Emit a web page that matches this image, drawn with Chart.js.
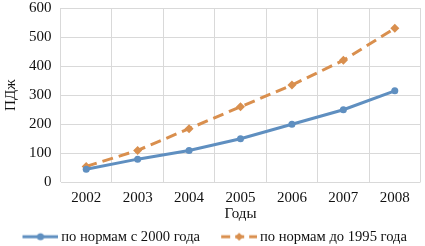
<!DOCTYPE html>
<html>
<head>
<meta charset="utf-8">
<script src="https://cdn.jsdelivr.net/npm/chart.js@4.4.1/dist/chart.umd.min.js"></script>
<style>
  html, body { margin: 0; padding: 0; background: #fff; overflow: hidden; }
  #wrap { width: 425px; height: 264px; margin-top: -10px; }
</style>
</head>
<body>
<div id="wrap"><canvas id="myChart"></canvas></div>
<script>
const years = ['2002', '2003', '2004', '2005', '2006', '2007', '2008'];
const norms2000 = [45, 80, 110, 150, 200, 250, 315];
const norms1995 = [55, 110, 185, 260, 335, 420, 530];
const yTicks = [0, 100, 200, 300, 400, 500, 600];

const blue = '#5f8fc0';
const orange = '#d98f4e';
const font = 'Liberation Serif';

// legend swatch: line with the marker, pushed to the right of the image
// so it sits close to the label text
function swatch(color, dash, marker) {
  const c = document.createElement('canvas');
  c.width = 45; c.height = 10;
  const g = c.getContext('2d');
  g.strokeStyle = color;
  g.lineWidth = 3;
  g.setLineDash(dash);
  g.beginPath(); g.moveTo(9, 5); g.lineTo(45, 5); g.stroke();
  g.fillStyle = color;
  g.beginPath();
  if (marker === 'circle') {
    g.arc(27, 5, 3.5, 0, Math.PI * 2);
  } else {
    g.moveTo(27, 1); g.lineTo(31, 5); g.lineTo(27, 9); g.lineTo(23, 5); g.closePath();
  }
  g.fill();
  return c;
}

const ctx = document.getElementById('myChart');
new Chart(ctx, {
  type: 'line',
  data: {
    labels: years,
    datasets: [{
      label: 'по нормам с 2000 года',
      data: norms2000,
      borderColor: blue,
      backgroundColor: blue,
      borderWidth: 3,
      pointStyle: 'circle',
      pointRadius: 3.5,
      pointBorderWidth: 0,
      legendImg: swatch(blue, [], 'circle')
    }, {
      label: 'по нормам до 1995 года',
      data: norms1995,
      borderColor: orange,
      backgroundColor: orange,
      borderWidth: 3,
      borderDash: [11, 6],
      pointStyle: 'rectRot',
      pointRadius: 4.5,
      pointBorderWidth: 0,
      legendImg: swatch(orange, [9, 5], 'diamond')
    }]
  },
  options: {
    responsive: true,
    maintainAspectRatio: false,
    animation: false,
    layout: { padding: { left: 2, right: 2, top: 0, bottom: 0 } },
    plugins: {
      tooltip: { enabled: false },
      legend: {
        position: 'bottom',
        labels: {
          usePointStyle: true,
          pointStyleWidth: 36,
          padding: 2,
          color: '#111',
          font: { family: font, size: 14.6 },
          generateLabels(chart) {
            const n = chart.data.datasets.length;
            return chart.data.datasets.map((ds, i) => ({
              // en spaces after all but the last label keep the items apart
              text: i < n - 1 ? ds.label + '\u2002\u2002' : ds.label,
              pointStyle: ds.legendImg,
              fillStyle: ds.borderColor,
              strokeStyle: ds.borderColor,
              lineWidth: 0,
              datasetIndex: i,
              fontColor: '#111'
            }));
          }
        }
      }
    },
    scales: {
      x: {
        offset: true,
        grid: { color: '#d9d9d9', offset: true, drawTicks: false },
        border: { display: false },
        ticks: { color: '#111', padding: 7, font: { family: font, size: 15 } },
        title: { display: true, text: 'Годы', color: '#111', padding: { top: -9, bottom: 4 }, font: { family: font, size: 15 } }
      },
      y: {
        min: 0,
        max: 600,
        afterBuildTicks(axis) { axis.ticks = yTicks.map(v => ({ value: v })); },
        grid: { color: '#d9d9d9', drawTicks: false },
        border: { display: false },
        ticks: { color: '#111', padding: 9, autoSkip: false, font: { family: font, size: 15 } },
        title: { display: true, text: 'ПДж', color: '#111', padding: { top: 0, bottom: 0 }, font: { family: font, size: 15 } }
      }
    }
  }
});
</script>
</body>
</html>
